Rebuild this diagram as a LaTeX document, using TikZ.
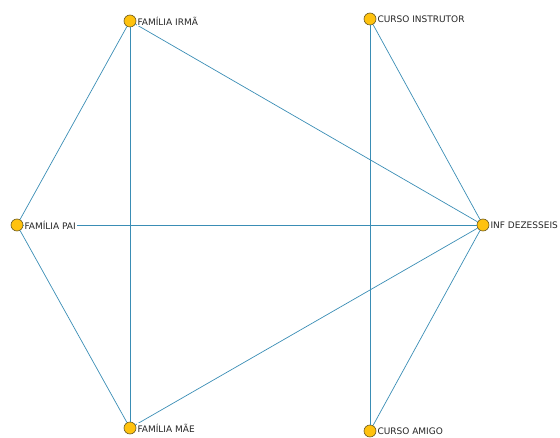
\documentclass[tikz,border=0pt]{standalone}
\usepackage{fontspec}
\setmainfont{DejaVu Sans}
\definecolor{edgeblue}{HTML}{3A8DB5}
\definecolor{vertexfill}{HTML}{FFC20E}
\definecolor{vertexline}{HTML}{6B5A1E}
\tikzset{
	vertex/.style={circle, fill=vertexfill, draw=vertexline, line width=0.6pt, minimum size=12pt, inner sep=0pt},
	vlabel/.style={font=\fontsize{9}{10}\selectfont, fill=white, inner sep=1pt, anchor=west, text=black!85},
	tie/.style={edgeblue, line width=0.7pt}
}
\begin{document}
\begin{tikzpicture}[x=1pt, y=-1pt]
%	frame
	\useasboundingbox (0,0) rectangle (560,438);
	
	\node (irma)[vertex] at (130,21) {};
	\node (instr)[vertex] at (370,19) {};
	\node (pai)[vertex] at (17,225) {};
	\node (inf)[vertex] at (483,225) {};
	\node (mae)[vertex] at (130,428) {};
	\node (amigo)[vertex] at (370,431) {};
	
	\draw[tie] (irma) -- (pai);
	\draw[tie] (irma) -- (mae);
	\draw[tie] (irma) -- (inf);
	\draw[tie] (pai) -- (inf);
	\draw[tie] (pai) -- (mae);
	\draw[tie] (mae) -- (inf);
	\draw[tie] (instr) -- (inf);
	\draw[tie] (instr) -- (amigo);
	\draw[tie] (amigo) -- (inf);
	
	\node (irmal)[vlabel] at (irma.east) {FAMÍLIA IRMÃ};
	\node (instrl)[vlabel] at (instr.east) {CURSO INSTRUTOR};
	\node (pail)[vlabel] at (pai.east) {FAMÍLIA PAI};
	\node (infl)[vlabel] at (inf.east) {INF DEZESSEIS};
	\node (mael)[vlabel] at (mae.east) {FAMÍLIA MÃE};
	\node (amigol)[vlabel] at (amigo.east) {CURSO AMIGO};
	
\end{tikzpicture}
\end{document}
